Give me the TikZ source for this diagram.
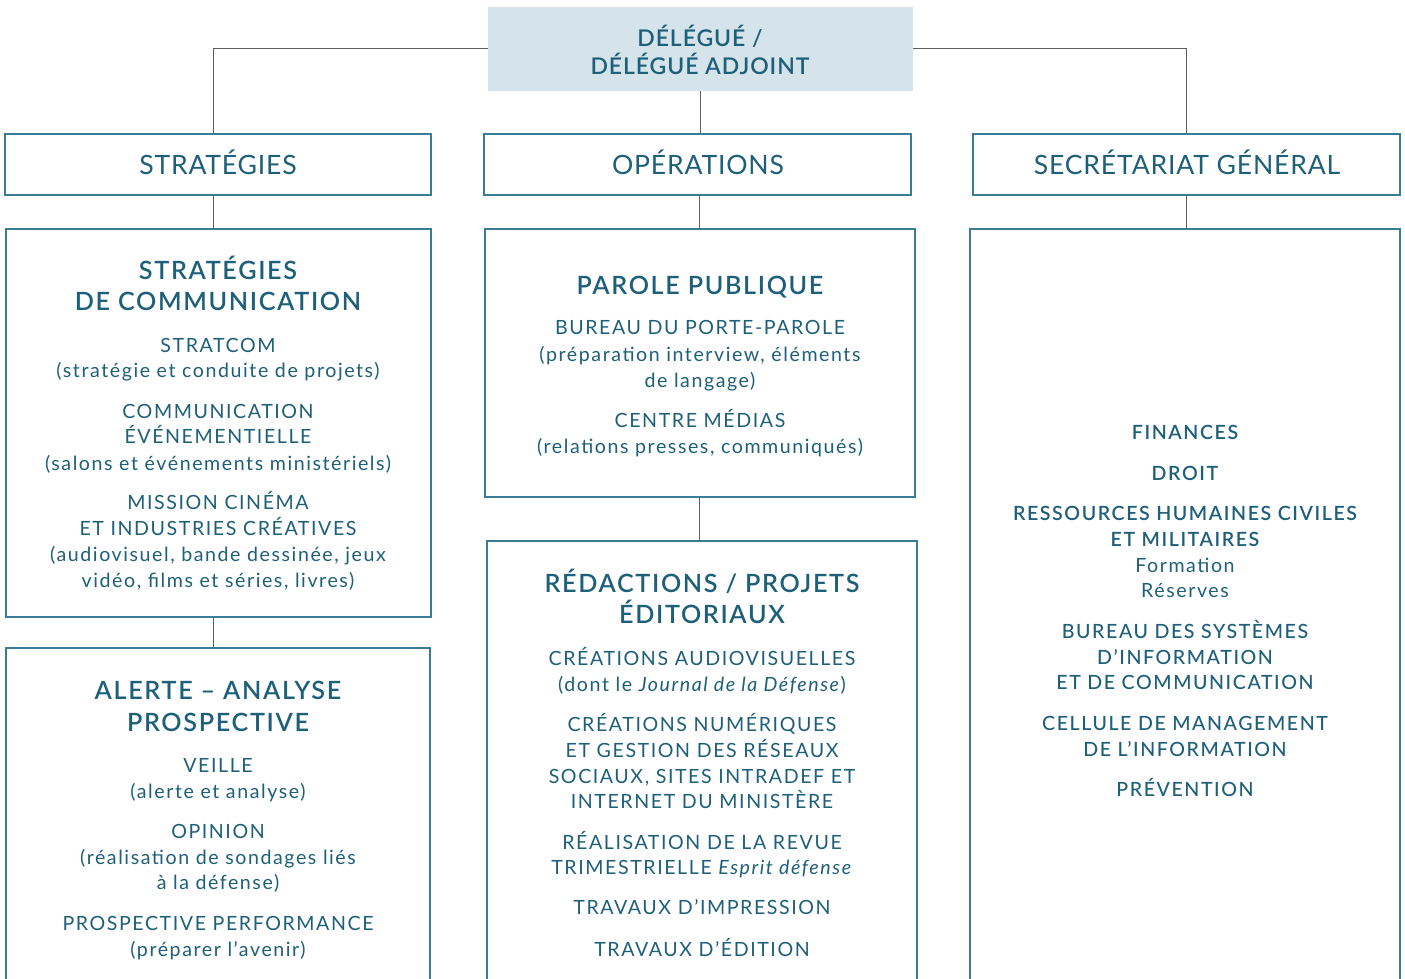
\documentclass[tikz,border=0pt]{standalone}
\usepackage{fontspec}
\setmainfont{Lato}
\newfontfamily\unitfont{Lato}[LetterSpace=8]
\newfontfamily\headfont{Lato}[LetterSpace=3]
\newfontfamily\topfont{Lato Semibold}[LetterSpace=4]
\newfontfamily\titlefont{Lato Semibold}[LetterSpace=6.5]
\newfontfamily\semifont{Lato Semibold}[LetterSpace=8]
\newfontfamily\medfont{Lato Medium}[LetterSpace=8]
\usetikzlibrary{fit, positioning}

\definecolor{orgtext}{HTML}{1E6079}
\definecolor{orgline}{HTML}{3A7C93}
\definecolor{orgfill}{HTML}{D5E3EA}
\definecolor{orglink}{HTML}{5E5E5E}

\tikzset{
  box/.style={draw=orgline, line width=0.6pt, inner sep=0pt},
  link/.style={draw=orglink, line width=0.5pt},
  line/.style={text=orgtext, inner sep=0pt, anchor=base},
  toptext/.style={line, font=\topfont\fontsize{11.5}{14}\selectfont},
  headtext/.style={line, font=\headfont\fontsize{13.3}{16}\selectfont},
  title/.style={line, font=\titlefont\fontsize{12.6}{15}\selectfont},
  unit/.style={line, font=\unitfont\fontsize{9.8}{12}\selectfont},
  bunit/.style={line, font=\semifont\fontsize{9.8}{12}\selectfont},
  munit/.style={line, font=\medfont\fontsize{9.8}{12}\selectfont}
}

\begin{document}
\begin{tikzpicture}[x=0.5pt, y=-0.5pt]
  \useasboundingbox (0,0) rectangle (1405,979);
  \clip (0,0) rectangle (1405,979);
  \fill[white] (0,0) rectangle (1405,979);

  % head of the chart
  \node[fill=orgfill, inner sep=0pt, fit={(488,7)(913,91)}] (delegue) {};
  \node[toptext] (delegue-1) at (700,47) {DÉLÉGUÉ /};
  \node[toptext] (delegue-2) at (700,75) {DÉLÉGUÉ ADJOINT};

  % the three branches
  \node[box, fit={(5,134)(431,195)}] (strategies) {};
  \node[box, fit={(484,134)(911,195)}] (operations) {};
  \node[box, fit={(973,134)(1400,195)}] (secretariat) {};
  \node[headtext] (strategies-t) at (218,175) {STRATÉGIES};
  \node[headtext] (operations-t) at (698,175) {OPÉRATIONS};
  \node[headtext] (secretariat-t) at (1187,175) {SECRÉTARIAT GÉNÉRAL};

  % services
  \node[box, fit={(6,229)(431,617)}] (strat-com) {};
  \node[box, fit={(6,648)(430,1000)}] (alerte) {};
  \node[box, fit={(485,229)(915,497)}] (parole) {};
  \node[box, fit={(487,541)(917,1000)}] (redactions) {};
  \node[box, fit={(970,229)(1400,1000)}] (sg-services) {};

  \draw[link] (delegue.west) -| ([xshift=-2.5pt]strategies.north);
  \draw[link] (delegue.east) -| (secretariat.north);
  \draw[link] (delegue.south) -- (delegue.south |- operations.north);
  \draw[link] ([xshift=-2.5pt]strategies.south) -- ([xshift=-2.5pt]strategies.south |- strat-com.north);
  \draw[link] ([xshift=-2.5pt]strat-com.south) -- ([xshift=-2.5pt]strat-com.south |- alerte.north);
  \draw[link] ([xshift=0.75pt]operations.south) -- ([xshift=0.75pt]operations.south |- parole.north);
  \draw[link] ([xshift=-0.5pt]parole.south) -- ([xshift=-0.5pt]parole.south |- redactions.north);
  \draw[link] (secretariat.south) -- (secretariat.south |- sg-services.north);

  % texts of the services
  \foreach \y/\s/\t in {279/title/STRATÉGIES, 311/title/DE COMMUNICATION,
      352/unit/STRATCOM, 378/unit/{(stratégie et conduite de projets)},
      418/unit/COMMUNICATION, 444/unit/ÉVÉNEMENTIELLE,
      470/unit/{(salons et événements ministériels)},
      509/unit/MISSION CINÉMA, 535/unit/ET INDUSTRIES CRÉATIVES,
      561/unit/{(audiovisuel, bande dessinée, jeux}, 587/unit/{vidéo, films et séries, livres)},
      699/title/ALERTE – ANALYSE, 731/title/PROSPECTIVE,
      772/unit/VEILLE, 798/unit/{(alerte et analyse)},
      838/unit/OPINION, 864/unit/{(réalisation de sondages liés}, 889/unit/{à la défense)},
      930/unit/PROSPECTIVE PERFORMANCE, 956/unit/{(préparer l’avenir)}}
    \node[\s] (strat-\y) at (218,\y) {\t};

  \foreach \y/\s/\t in {294/title/PAROLE PUBLIQUE,
      335/unit/BUREAU DU PORTE-PAROLE, 361/unit/{(préparation interview, éléments},
      387/unit/{de langage)},
      427/unit/CENTRE MÉDIAS, 453/unit/{(relations presses, communiqués)}}
    \node[\s] (parole-\y) at (700,\y) {\t};

  \foreach \y/\s/\t in {592/title/{RÉDACTIONS / PROJETS}, 623/title/ÉDITORIAUX,
      665/unit/CRÉATIONS AUDIOVISUELLES, 691/unit/{(dont le \emph{Journal de la Défense})},
      731/unit/CRÉATIONS NUMÉRIQUES, 757/unit/ET GESTION DES RÉSEAUX,
      783/unit/{SOCIAUX, SITES INTRADEF ET}, 808/unit/INTERNET DU MINISTÈRE,
      849/unit/RÉALISATION DE LA REVUE, 874/unit/{TRIMESTRIELLE \emph{Esprit défense}},
      914/unit/TRAVAUX D’IMPRESSION, 956/unit/TRAVAUX D’ÉDITION}
    \node[\s] (redac-\y) at (702,\y) {\t};

  \foreach \y/\s/\t in {439/bunit/FINANCES, 480/bunit/DROIT,
      520/bunit/RESSOURCES HUMAINES CIVILES, 546/bunit/ET MILITAIRES,
      572/unit/Formation, 597/unit/Réserves,
      638/munit/BUREAU DES SYSTÈMES, 664/munit/D’INFORMATION, 689/munit/ET DE COMMUNICATION,
      730/munit/CELLULE DE MANAGEMENT, 756/munit/DE L’INFORMATION,
      796/munit/PRÉVENTION}
    \node[\s] (sg-\y) at (1185,\y) {\t};
\end{tikzpicture}
\end{document}
